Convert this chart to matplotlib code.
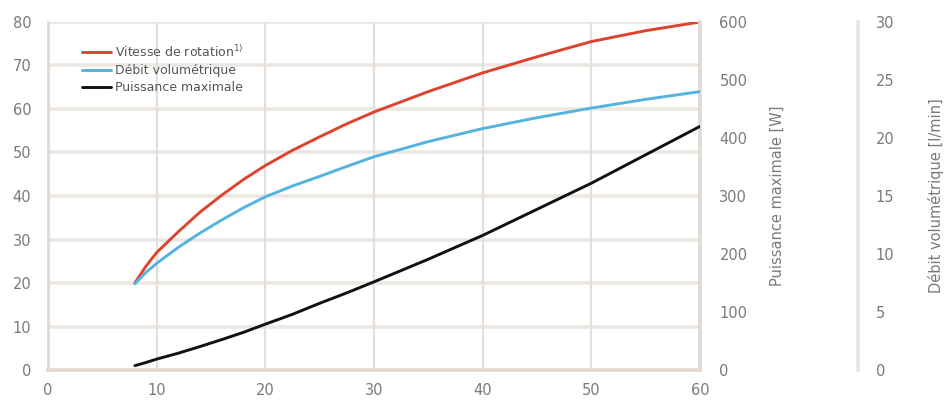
import matplotlib.pyplot as plt

# pression / point de fonctionnement (axe x)
x_vals = [8, 9, 10, 12, 14, 16, 18, 20, 22.5, 25, 27.5, 30, 35, 40, 45, 50, 55, 60]

vitesse = [20, 23.8, 27, 31.8, 36.3, 40.2, 43.8, 47, 50.5, 53.6, 56.6, 59.3,
           64, 68.3, 72, 75.5, 78, 80]
# debit volumetrique en l/min
debit = [7.43, 8.4, 9.19, 10.58, 11.81, 12.94, 13.99, 14.93, 15.86, 16.69,
         17.55, 18.38, 19.69, 20.81, 21.75, 22.58, 23.33, 24.0]
# puissance maximale en W
puissance = [7.5, 12.8, 18.8, 29, 40.5, 52.5, 65, 79, 96, 115, 133, 152,
             191, 232, 277, 322, 371, 420]

x_ticks = [0, 10, 20, 30, 40, 50, 60]
left_ticks = [0, 10, 20, 30, 40, 50, 60, 70, 80]
p_ticks = [0, 100, 200, 300, 400, 500, 600]
d_ticks = [0, 5, 10, 15, 20, 25, 30]

RED = '#dc4430'
BLUE = '#55b3df'
BLACK = '#111111'
GRID = '#ece7e2'
SPINE = '#e0d9d3'
TXT = '#7a7a7a'

plt.rcParams['font.family'] = ['DejaVu Sans']

fig = plt.figure(figsize=(9.46, 4.05), dpi=100)
ax = fig.add_axes([0.0507, 0.0864, 0.6892, 0.8593])
ax_p = ax.twinx()
ax_d = ax.twinx()
ax_d.spines['right'].set_position(('axes', 1.242))

ax.set_xlim(0, 60)
ax.set_ylim(0, 80)
ax_p.set_ylim(0, 600)
ax_d.set_ylim(0, 30)

ax.set_xticks(x_ticks)
ax.set_yticks(left_ticks)
ax_p.set_yticks(p_ticks)
ax_d.set_yticks(d_ticks)

# grille
for v in left_ticks[1:]:
    ax.axhline(v, color=GRID, lw=2.6, zorder=0)
for v in x_ticks[1:-1]:
    ax.axvline(v, color='#e5dfd9', lw=1.6, zorder=0)

for a in (ax, ax_p, ax_d):
    for s in a.spines.values():
        s.set_visible(False)
    a.tick_params(length=0, labelsize=10.5, colors=TXT)

ax.spines['left'].set_visible(True)
ax.spines['left'].set_color(SPINE)
ax.spines['left'].set_linewidth(2)
ax.spines['bottom'].set_visible(True)
ax.spines['bottom'].set_color(SPINE)
ax.spines['bottom'].set_linewidth(2.6)
ax_p.spines['right'].set_visible(True)
ax_p.spines['right'].set_color(SPINE)
ax_p.spines['right'].set_linewidth(2.6)
ax_d.spines['right'].set_visible(True)
ax_d.spines['right'].set_color('#ebe6e2')
ax_d.spines['right'].set_linewidth(2.6)

ax.tick_params(axis='y', pad=12)
ax.tick_params(axis='x', pad=9)
ax_p.tick_params(axis='y', pad=14)
ax_d.tick_params(axis='y', pad=13)

l1, = ax.plot(x_vals, vitesse, color=RED, lw=2.1, solid_capstyle='round', zorder=3)
l2, = ax_d.plot(x_vals, debit, color=BLUE, lw=2.1, solid_capstyle='round', zorder=3)
l3, = ax_p.plot(x_vals, puissance, color=BLACK, lw=2.1, solid_capstyle='round', zorder=3)

ax_p.set_ylabel('Puissance maximale [W]', color=TXT, fontsize=10.5, labelpad=16)
ax_d.set_ylabel('Débit volumétrique [l/min]', color=TXT, fontsize=10.5, labelpad=24)

ax.legend([l1, l2, l3],
          [r'Vitesse de rotation$^{1)}$', 'Débit volumétrique', 'Puissance maximale'],
          loc='upper left', bbox_to_anchor=(0.035, 0.97), frameon=False,
          fontsize=9, handlelength=2.3, handletextpad=0.3, labelspacing=0.35,
          labelcolor='#555555')

fig.savefig('out.png', dpi=100)
